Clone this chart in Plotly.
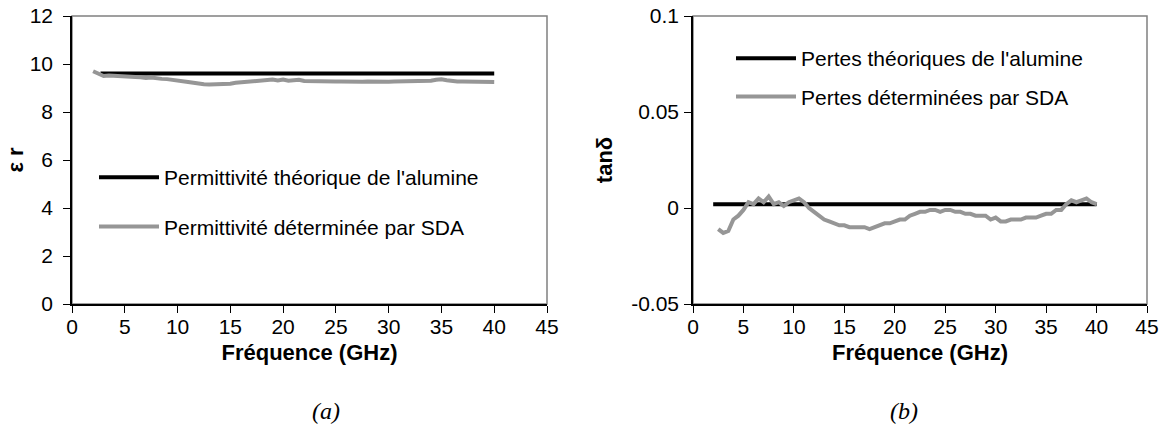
import plotly.graph_objects as go

# ---- data ----
freq_theo = [2.7, 40.0]
eps_theo = [9.6, 9.6]

freq_eps = [2.0, 2.5, 3.0, 3.5, 4.0, 4.5, 5.0, 5.5, 6.0, 6.5, 7.0, 7.5, 8.0, 8.5, 9.0, 9.5,
            10.0, 10.5, 11.0, 11.5, 12.0, 12.5, 13.0, 13.5, 14.0, 14.5, 15.0, 15.5, 16.0, 16.5,
            17.0, 17.5, 18.0, 18.5, 19.0, 19.5, 20.0, 20.5, 21.0, 21.5, 22.0, 22.5, 23.0, 23.5,
            24.0, 24.5, 25.0, 25.5, 26.0, 26.5, 27.0, 27.5, 28.0, 28.5, 29.0, 29.5, 30.0, 30.5,
            31.0, 31.5, 32.0, 32.5, 33.0, 33.5, 34.0, 34.5, 35.0, 35.5, 36.0, 36.5, 37.0, 37.5,
            38.0, 38.5, 39.0, 39.5, 40.0]
eps_sda = [9.70, 9.58, 9.50, 9.52, 9.50, 9.48, 9.47, 9.46, 9.46, 9.45, 9.42, 9.44, 9.40, 9.38, 9.37, 9.35,
           9.30, 9.28, 9.25, 9.22, 9.18, 9.16, 9.15, 9.15, 9.15, 9.16, 9.18, 9.22, 9.24, 9.25,
           9.26, 9.27, 9.30, 9.33, 9.35, 9.31, 9.35, 9.30, 9.34, 9.34, 9.29, 9.28, 9.27, 9.27,
           9.27, 9.26, 9.27, 9.27, 9.26, 9.27, 9.27, 9.26, 9.27, 9.26, 9.27, 9.27, 9.26, 9.27,
           9.27, 9.26, 9.27, 9.28, 9.27, 9.28, 9.30, 9.34, 9.36, 9.32, 9.28, 9.27, 9.27, 9.26,
           9.26, 9.26, 9.26, 9.25, 9.25]

freq_tan_theo = [2.0, 40.0]
tan_theo = [0.002, 0.002]

freq_tan = [2.5, 3.0, 3.5, 4.0, 4.5, 5.0, 5.5, 6.0, 6.5, 7.0, 7.5, 8.0, 8.5, 9.0, 9.5,
            10.0, 10.5, 11.0, 11.5, 12.0, 12.5, 13.0, 13.5, 14.0, 14.5, 15.0, 15.5, 16.0, 16.5,
            17.0, 17.5, 18.0, 18.5, 19.0, 19.5, 20.0, 20.5, 21.0, 21.5, 22.0, 22.5, 23.0, 23.5,
            24.0, 24.5, 25.0, 25.5, 26.0, 26.5, 27.0, 27.5, 28.0, 28.5, 29.0, 29.5, 30.0, 30.5,
            31.0, 31.5, 32.0, 32.5, 33.0, 33.5, 34.0, 34.5, 35.0, 35.5, 36.0, 36.5, 37.0, 37.5,
            38.0, 38.5, 39.0, 39.5, 40.0]
tan_sda = [-0.011, -0.013, -0.012, -0.006, -0.004, -0.001, 0.003, 0.002, 0.005, 0.003, 0.006, 0.002, 0.003, 0.001, 0.003,
           0.004, 0.005, 0.003, 0.000, -0.002, -0.004, -0.006, -0.007, -0.008, -0.009, -0.009, -0.010, -0.010, -0.010,
           -0.010, -0.011, -0.010, -0.009, -0.008, -0.008, -0.007, -0.006, -0.006, -0.004, -0.003, -0.002, -0.002, -0.001,
           -0.001, -0.002, -0.001, -0.001, -0.002, -0.002, -0.003, -0.003, -0.004, -0.004, -0.004, -0.006, -0.005, -0.007,
           -0.007, -0.006, -0.006, -0.006, -0.005, -0.005, -0.005, -0.004, -0.003, -0.003, -0.001, -0.001, 0.002, 0.004,
           0.003, 0.004, 0.005, 0.003, 0.002]

x_ticks = [0, 5, 10, 15, 20, 25, 30, 35, 40, 45]
eps_ticks = [0, 2, 4, 6, 8, 10, 12]
tan_ticks = [-0.05, 0, 0.05, 0.1]
tan_tick_text = ["-0.05", "0", "0.05", "0.1"]

names = ["Permittivité théorique de l'alumine", "Permittivité déterminée par SDA",
         "Pertes théoriques de l'alumine", "Pertes déterminées par SDA"]
panel_labels = ["(a)", "(b)"]

BLACK = "#000000"
GREY = "#969696"
FONT = "Liberation Sans, Arial, sans-serif"
SERIF = "Liberation Serif, Times New Roman, serif"

fig = go.Figure()
fig.add_trace(go.Scatter(x=freq_theo, y=eps_theo, mode="lines", name=names[0],
                         line=dict(color=BLACK, width=4), xaxis="x", yaxis="y",
                         legend="legend", legendgroup="a1"))
fig.add_trace(go.Scatter(x=freq_eps, y=eps_sda, mode="lines", name=names[1],
                         line=dict(color=GREY, width=4), xaxis="x", yaxis="y",
                         legend="legend", legendgroup="a2"))
fig.add_trace(go.Scatter(x=freq_tan_theo, y=tan_theo, mode="lines", name=names[2],
                         line=dict(color=BLACK, width=4), xaxis="x2", yaxis="y2",
                         legend="legend2", legendgroup="b1"))
fig.add_trace(go.Scatter(x=freq_tan, y=tan_sda, mode="lines", name=names[3],
                         line=dict(color=GREY, width=4), xaxis="x2", yaxis="y2",
                         legend="legend2", legendgroup="b2"))

# the page body margin is removed (post_script below), so page pixels = figure pixels
W, H = 1166, 445


def px_x(v):
    return v / W


def px_y(v):
    return (H - v) / H


xd1 = [px_x(72), px_x(547)]
xd2 = [px_x(693), px_x(1147)]
yd = [px_y(304), px_y(16)]

axis_common = dict(showline=True, linecolor=BLACK, linewidth=1.5, ticks="outside",
                   ticklen=7, tickcolor=BLACK, tickwidth=1.2, showgrid=False, zeroline=False,
                   automargin=False, ticklabeloverflow="allow",
                   tickfont=dict(family=FONT, size=21, color=BLACK))

fig.update_layout(
    width=W, height=H, margin=dict(l=0, r=0, t=0, b=0),
    paper_bgcolor="white", plot_bgcolor="white",
    font=dict(family=FONT, color=BLACK),
    xaxis=dict(domain=xd1, anchor="y", range=[0, 45], tickvals=x_ticks, ticklabelstandoff=-4,
               title=dict(text="<b>Fréquence (GHz)</b>", font=dict(size=22), standoff=8),
               **axis_common),
    yaxis=dict(domain=yd, anchor="x", range=[0, 12], tickvals=eps_ticks, ticklabelstandoff=6,
               title=dict(text="<b>ε r</b>", font=dict(size=22), standoff=0),
               **axis_common),
    xaxis2=dict(domain=xd2, anchor="y2", range=[0, 45], tickvals=x_ticks, ticklabelstandoff=-4,
                title=dict(text="<b>Fréquence (GHz)</b>", font=dict(size=22), standoff=8),
                **axis_common),
    yaxis2=dict(domain=yd, anchor="x2", range=[-0.05, 0.1], tickvals=tan_ticks,
                ticktext=tan_tick_text, ticklabelstandoff=1,
                title=dict(text="<b>tanδ</b>", font=dict(size=22), standoff=12),
                **axis_common),
    legend=dict(x=px_x(94), y=px_y(157), xanchor="left", yanchor="top",
                bgcolor="rgba(0,0,0,0)", font=dict(family=FONT, size=21, color=BLACK),
                tracegroupgap=19, itemwidth=60),
    legend2=dict(x=px_x(731), y=px_y(38), xanchor="left", yanchor="top",
                 bgcolor="rgba(0,0,0,0)", font=dict(family=FONT, size=21, color=BLACK),
                 tracegroupgap=8, itemwidth=60),
    showlegend=True,
    shapes=[
        dict(type="rect", xref="x domain", yref="y domain", x0=0, x1=1, y0=0, y1=1,
             line=dict(color="#808080", width=1.5), layer="below"),
        dict(type="rect", xref="x2 domain", yref="y2 domain", x0=0, x1=1, y0=0, y1=1,
             line=dict(color="#808080", width=1.5), layer="below"),
    ],
    annotations=[
        dict(text="<i>" + panel_labels[0] + "</i>", xref="paper", yref="paper",
             x=(xd1[0] + xd1[1]) / 2, y=px_y(426), showarrow=False,
             font=dict(family=SERIF, size=24, color=BLACK)),
        dict(text="<i>" + panel_labels[1] + "</i>", xref="paper", yref="paper",
             x=(xd2[0] + xd2[1]) / 2, y=px_y(426), showarrow=False,
             font=dict(family=SERIF, size=24, color=BLACK)),
    ],
)

fig.write_html("out.html", config={"displayModeBar": False},
               post_script="document.body.style.margin='0';document.body.style.overflow='hidden';")
